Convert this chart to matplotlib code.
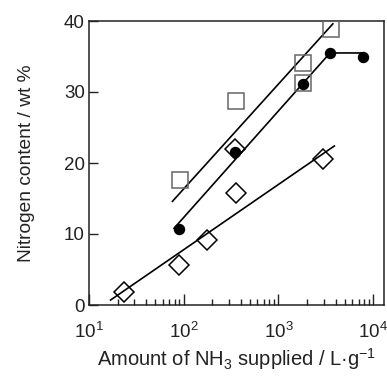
import matplotlib
matplotlib.use("Agg")
import matplotlib.pyplot as plt
import numpy as np

plt.rcParams['font.family'] = ['Liberation Sans', 'DejaVu Sans']
plt.rcParams['mathtext.default'] = 'regular'

# Data
sq_x = [91, 355, 1820, 1820, 3550]
sq_y = [17.6, 28.7, 34.1, 31.3, 38.9]
sq_fit_x = [76, 3750]
sq_fit_y = [14.6, 39.6]

dot_x = [89, 350, 1800, 3500, 7760]
dot_y = [10.7, 21.6, 31.1, 35.5, 34.9]
dot_fit_x = [79, 3500, 7760]
dot_fit_y = [10.8, 35.5, 35.5]

dia_x = [23.3, 89, 178, 350, 355, 2960]
dia_y = [1.9, 5.7, 9.2, 22.0, 15.8, 20.6]
dia_fit_x = [16.9, 3890]
dia_fit_y = [0.7, 22.4]

W, H = 387, 378
fig = plt.figure(figsize=(W/100, H/100), dpi=100)
ax = fig.add_axes([89/W, 1-305/H, (384-89)/W, (305-21)/H])

ax.plot(sq_fit_x, sq_fit_y, color='black', lw=1.2, zorder=2)
ax.plot(dot_fit_x, dot_fit_y, color='black', lw=1.2, zorder=2)
ax.plot(dia_fit_x, dia_fit_y, color='black', lw=1.2, zorder=2)

ax.plot(sq_x, sq_y, ls='none', marker='s', ms=12, mfc='none', mec='#666666', mew=1.1, zorder=3)
ax.plot(dia_x, dia_y, ls='none', marker='D', ms=10, mfc='none', mec='black', mew=1.1, zorder=3)
ax.plot(dot_x, dot_y, ls='none', marker='o', ms=7.2, mfc='black', mec='black', zorder=4)

ax.set_xscale('log')
ax.set_xlim(10, 13000)
ax.set_ylim(0, 40)
ax.set_yticks([0, 10, 20, 30, 40])
ax.set_xticks([10, 100, 1000, 10000])

ax.tick_params(axis='both', which='both', direction='in', top=False, right=False,
               labelsize=13.5, color='#222222', labelcolor='#222222')
ax.tick_params(axis='x', which='major', length=8, width=1, pad=12)
ax.tick_params(axis='x', which='minor', length=4, width=1)
ax.tick_params(axis='y', which='major', length=6.5, width=1, pad=3)
for s in ax.spines.values():
    s.set_linewidth(1.1)
    s.set_color('#222222')

ax.set_xlabel('Amount of NH$_3$ supplied / L·g$^{-1}$', fontsize=14.5, labelpad=3, color='#222222')
ax.set_ylabel('Nitrogen content / wt %', fontsize=13.8, labelpad=21, color='#222222')

fig.savefig('out.png', dpi=100)
